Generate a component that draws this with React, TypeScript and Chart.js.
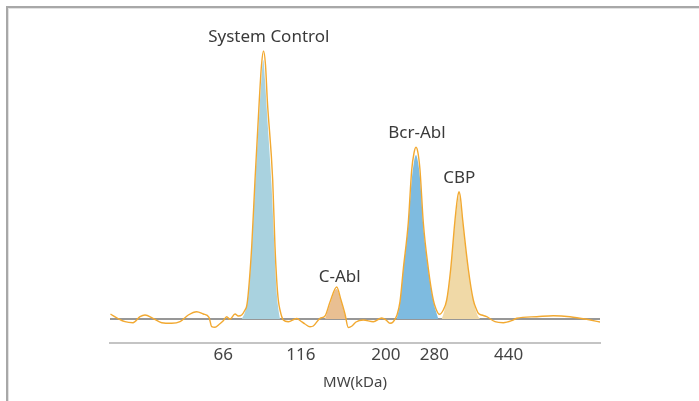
import React, { useEffect, useRef } from "react";
import { Chart, registerables } from "chart.js";

Chart.register(...registerables);

// Migration distance (arbitrary units) and signal (arbitrary units) of the electropherogram trace
const traceX = [0.5, 8, 15, 23, 30, 35, 43, 51.7, 61.7, 70, 78.3, 86.7, 93.3, 99, 101.7, 105, 109, 113.3, 116.7, 120, 125, 128.3, 131.7, 135, 136.7, 138.3, 141.7, 145, 149.3, 151.5, 153.5, 155.5, 157.3, 162.7, 165, 166.7, 168.3, 170, 173.3, 178.3, 186.7, 190, 195, 200, 203.3, 210, 215, 220, 226.7, 231, 235, 238.3, 242, 246, 253.3, 263.3, 271.7, 276, 280, 283.3, 287, 290, 293.3, 298.3, 301.7, 304, 306, 308, 310, 313.3, 318.3, 323.3, 326, 329.3, 333.3, 336.7, 340.7, 345, 347.5, 349, 350.5, 352.7, 358.3, 363.3, 366.7, 368.3, 371.7, 376.7, 385, 393.3, 401.7, 406.7, 426.7, 443.3, 460, 476.7, 490];
const traceY = [5, 0.5, -2.7, -3.7, 2.3, 4, 0.7, -3.7, -4.3, -2.7, 4, 7.3, 5, 1.7, -7.7, -8.3, -5.5, -1.7, 2.3, -0.3, 5, 3, 4, 9, 13, 26, 72.3, 139, 219, 254, 268, 254, 219, 139, 72.3, 39, 19, 9, -1, -2.7, 0.5, -1.5, -5, -7.7, -7, 0.7, 3, 17, 32, 19, 5, -8.5, -7, -3, -1, -2.7, 1, -1, -4.3, -2.7, 4, 17.3, 50, 96.5, 149, 166, 171.7, 166, 149, 96.5, 50.7, 19, 10, 4.7, 9, 19, 50, 99, 121, 127.3, 121, 99, 50, 19, 9, 5.7, 4, 2.3, -2.7, -3.7, -1.7, 0.7, 2.3, 3.3, 2.3, -0.3, -3];

// Identified peak areas
const sysX = [131.7, 135, 138.3, 141.7, 145, 149.5, 151.5, 153.3, 155, 156.5, 161.5, 164.5, 166.5, 168.5, 170];
const sysY = [0, 7, 24, 69, 134, 209, 241, 259, 239, 214, 134, 69, 29, 9, 0];
const cablX = [215, 220, 226.5, 231, 235, 236.7];
const cablY = [0, 15, 30, 18, 4, 0];
const bcrX = [286.7, 290, 293.3, 298.3, 301.7, 304, 306, 308, 310, 313.3, 318.3, 323.3, 328.3];
const bcrY = [0, 16, 49, 94, 139, 157, 164, 157, 141, 93, 49, 18, 0];
const cbpX = [331.7, 334, 336.7, 340.7, 345, 347.5, 349, 350.5, 352.7, 358.3, 363.3, 367, 370];
const cbpY = [0, 7, 19, 49, 97, 116, 123, 116, 97, 49, 19, 5, 0];

// Peak labels and their anchor points (data units)
const peakNames = ["System Control", "C-Abl", "Bcr-Abl", "CBP"];
const peakLabelX = [158.8, 229.7, 307, 349.2];
const peakLabelY = [282, 42, 186.3, 140.7];

// Molecular-weight markers
const mwLabels = ["66", "116", "200", "280", "440"];
const mwPositions = [113.3, 190.8, 275.8, 324.3, 398.7];

const toPts = (xs: number[], ys: number[]) => xs.map((x, i) => ({ x, y: ys[i] }));

const FONT = "'Noto Sans', 'DejaVu Sans', sans-serif";

const labelPlugin = {
  id: "peakLabels",
  afterDatasetsDraw(chart: any) {
    const { ctx, scales } = chart;
    ctx.save();
    ctx.font = `17px ${FONT}`;
    ctx.fillStyle = "#3a3a3a";
    ctx.textAlign = "center";
    ctx.textBaseline = "middle";
    peakNames.forEach((name, i) => {
      ctx.fillText(name, scales.x.getPixelForValue(peakLabelX[i]), scales.y.getPixelForValue(peakLabelY[i]));
    });
    ctx.restore();
  },
};

export default function App() {
  const ref = useRef<HTMLCanvasElement>(null);
  useEffect(() => {
    if (!ref.current) return;
    const fillDs = (xs: number[], ys: number[], color: string) => ({
      data: toPts(xs, ys),
      borderWidth: 0,
      borderColor: "rgba(0,0,0,0)",
      backgroundColor: color,
      fill: "origin",
      pointRadius: 0,
      cubicInterpolationMode: "monotone" as const,
      order: 1,
    });
    const chart = new Chart(ref.current, {
      type: "line",
      data: {
        datasets: [
          {
            data: toPts(traceX, traceY),
            borderColor: "#f2a931",
            borderWidth: 1.4,
            pointRadius: 0,
            fill: false,
            cubicInterpolationMode: "monotone",
            order: 0,
          },
          fillDs(sysX, sysY, "#a9d2df"),
          fillDs(cablX, cablY, "#e9bf92"),
          fillDs(bcrX, bcrY, "#7ebbe0"),
          fillDs(cbpX, cbpY, "#f0d9a7"),
        ] as any,
      },
      options: {
        animation: false,
        responsive: false,
        events: [],
        layout: { padding: { left: 110, right: 99, top: 20, bottom: 0 } },
        plugins: { legend: { display: false }, tooltip: { enabled: false } },
        scales: {
          x: {
            type: "linear",
            min: 0,
            max: 490,
            afterFit: (s: any) => {
              s.height = 58;
            },
            afterBuildTicks: (s: any) => {
              s.ticks = mwPositions.map((v) => ({ value: v }));
            },
            grid: { display: false, drawTicks: false },
            border: { display: true, color: "#c4c4c4", width: 2 },
            ticks: {
              autoSkip: false,
              maxRotation: 0,
              padding: 2,
              color: "#444",
              font: { family: FONT, size: 17 },
              callback: (v: any) => {
                const i = mwPositions.indexOf(Number(v));
                return i >= 0 ? mwLabels[i] : "";
              },
            },
            title: {
              display: true,
              text: "MW(kDa)",
              color: "#444",
              font: { family: FONT, size: 15 },
              padding: { top: 6, bottom: 9 },
            },
          },
          y: {
            type: "linear",
            min: -24,
            max: 299,
            afterFit: (s: any) => {
              s.width = 0;
            },
            ticks: { display: false },
            border: { display: false },
            grid: {
              drawTicks: false,
              lineWidth: 2,
              color: (c: any) => (c.tick && c.tick.value === 0 ? "#979797" : "rgba(0,0,0,0)"),
            },
            afterBuildTicks: (s: any) => {
              s.ticks = [{ value: 0 }];
            },
          },
        },
      },
      plugins: [labelPlugin],
    });
    return () => chart.destroy();
  }, []);

  return (
    <div style={{ position: "absolute", left: 0, top: 0, width: 699, height: 401, overflow: "hidden", background: "#fff" }}>
      <div style={{ position: "absolute", left: 6, top: 6, width: 693, height: 2, background: "#a8a8a8" }} />
      <div style={{ position: "absolute", left: 8, top: 8, width: 691, height: 1, background: "#e2e2e2" }} />
      <div style={{ position: "absolute", left: 6, top: 6, width: 2, height: 395, background: "#a8a8a8" }} />
      <div style={{ position: "absolute", left: 8, top: 8, width: 1, height: 393, background: "#e2e2e2" }} />
      <canvas ref={ref} width={699} height={401} style={{ position: "absolute", left: 0, top: 0 }} />
    </div>
  );
}
